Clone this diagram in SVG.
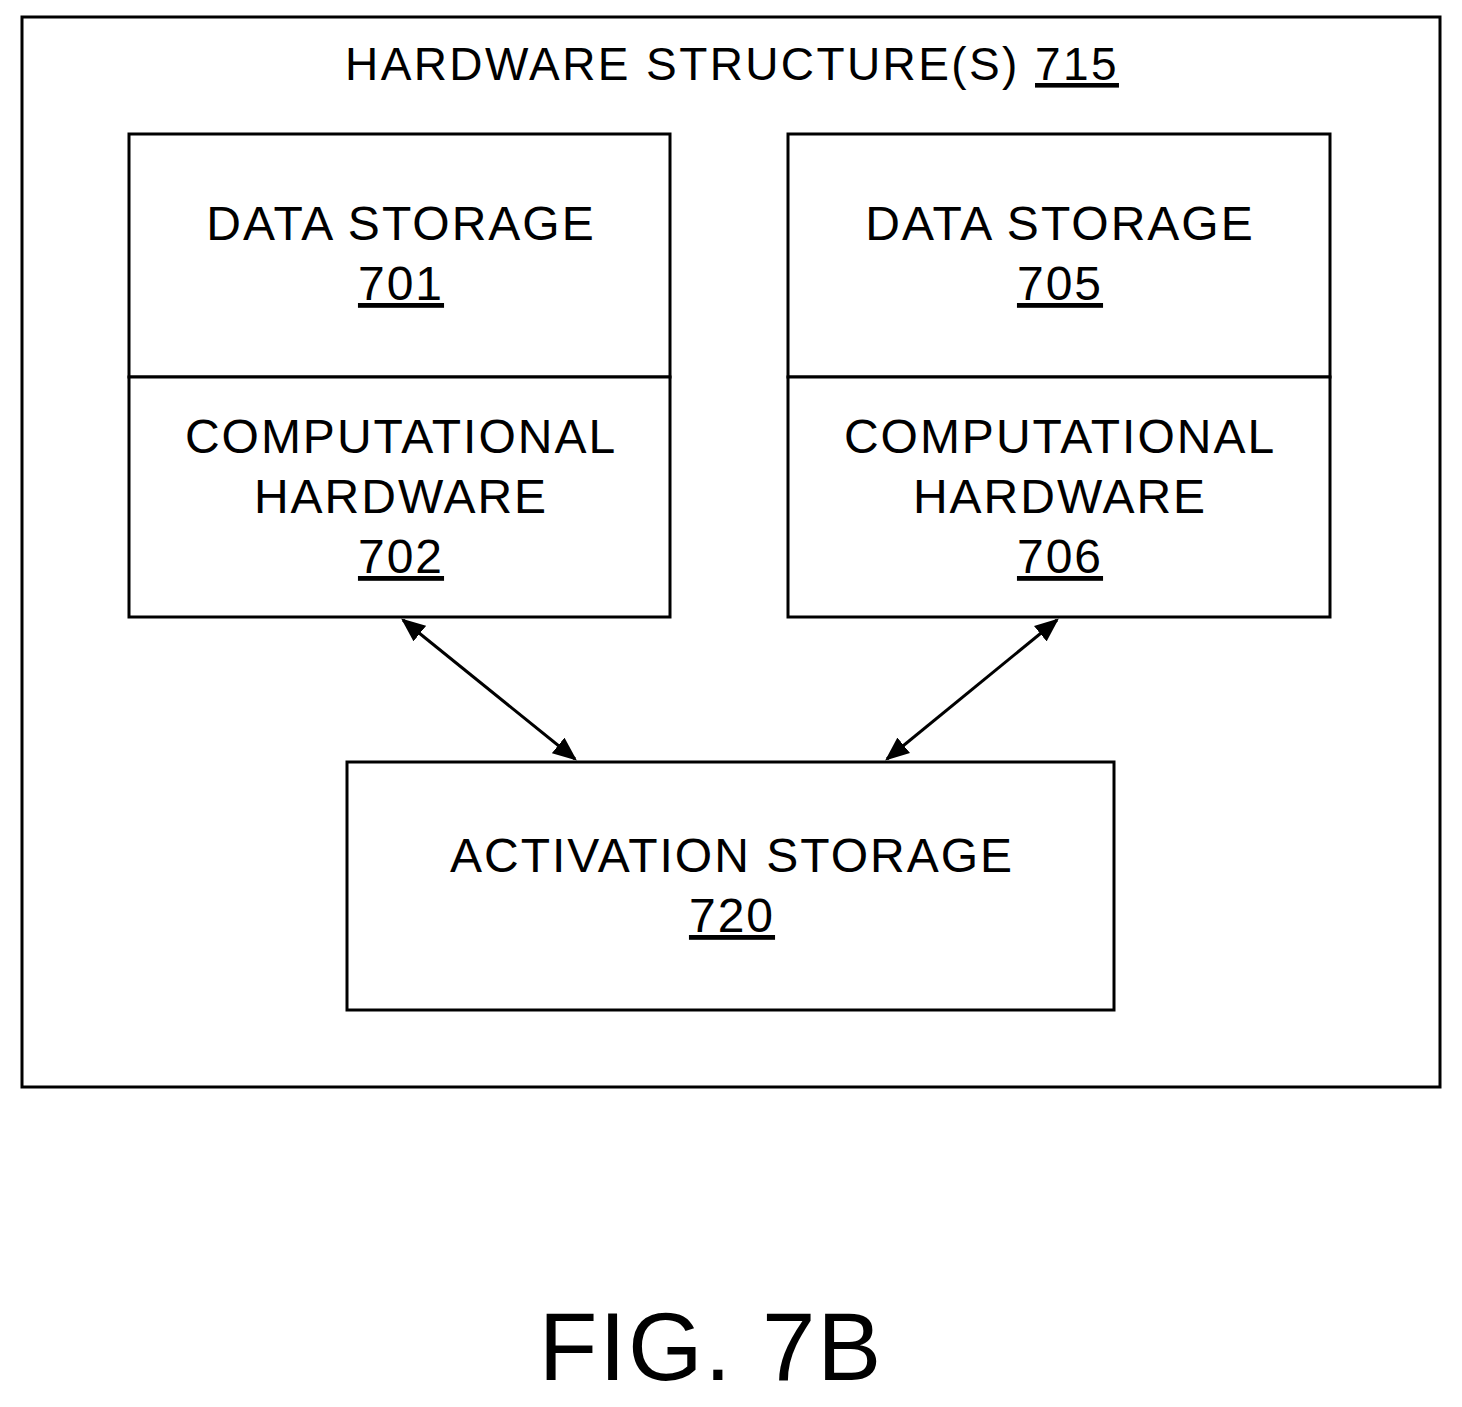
<svg xmlns="http://www.w3.org/2000/svg" width="1462" height="1407" viewBox="0 0 1462 1407">
<style>
rect{fill:#fff;stroke:#000;stroke-width:3}
text{font-family:"Liberation Sans",Arial,sans-serif;font-size:48px;letter-spacing:2px;text-anchor:middle;fill:#000}
.u{text-decoration:underline}
line{stroke:#000;stroke-width:3}
</style>
<defs>
<marker id="a" viewBox="0 0 10 10" refX="9" refY="5" markerWidth="24" markerHeight="20" markerUnits="userSpaceOnUse" orient="auto-start-reverse" preserveAspectRatio="none"><path d="M0,0L10,5L0,10z" fill="#000"/></marker>
</defs>
<rect width="1462" height="1407" style="stroke:none"/>
<g id="outer"><rect x="22" y="17" width="1418" height="1070"/>
<text x="732" y="80" style="font-size:46px;letter-spacing:2.4px">HARDWARE STRUCTURE(S) <tspan class="u">715</tspan></text></g>
<g id="ds701"><rect x="129" y="134" width="541" height="243"/><text x="401" y="240">DATA STORAGE</text><text x="401" y="300" class="u">701</text></g>
<g id="ch702"><rect x="129" y="377" width="541" height="240"/><text x="401" y="453">COMPUTATIONAL</text><text x="401" y="513">HARDWARE</text><text x="401" y="573" class="u">702</text></g>
<g id="ds705"><rect x="788" y="134" width="542" height="243"/><text x="1060" y="240">DATA STORAGE</text><text x="1060" y="300" class="u">705</text></g>
<g id="ch706"><rect x="788" y="377" width="542" height="240"/><text x="1060" y="453">COMPUTATIONAL</text><text x="1060" y="513">HARDWARE</text><text x="1060" y="573" class="u">706</text></g>
<g id="as720"><rect x="347" y="762" width="767" height="248"/><text x="732" y="872">ACTIVATION STORAGE</text><text x="732" y="932" class="u">720</text></g>
<g id="connectors">
<line x1="403" y1="620" x2="575" y2="759" marker-start="url(#a)" marker-end="url(#a)" style="stroke-width:3;fill:none"/>
<line x1="1057" y1="620" x2="887" y2="759" marker-start="url(#a)" marker-end="url(#a)" style="stroke-width:3;fill:none"/>
</g>
<text x="711" y="1380" style="font-size:96px;letter-spacing:2px">FIG. 7B</text>
</svg>
